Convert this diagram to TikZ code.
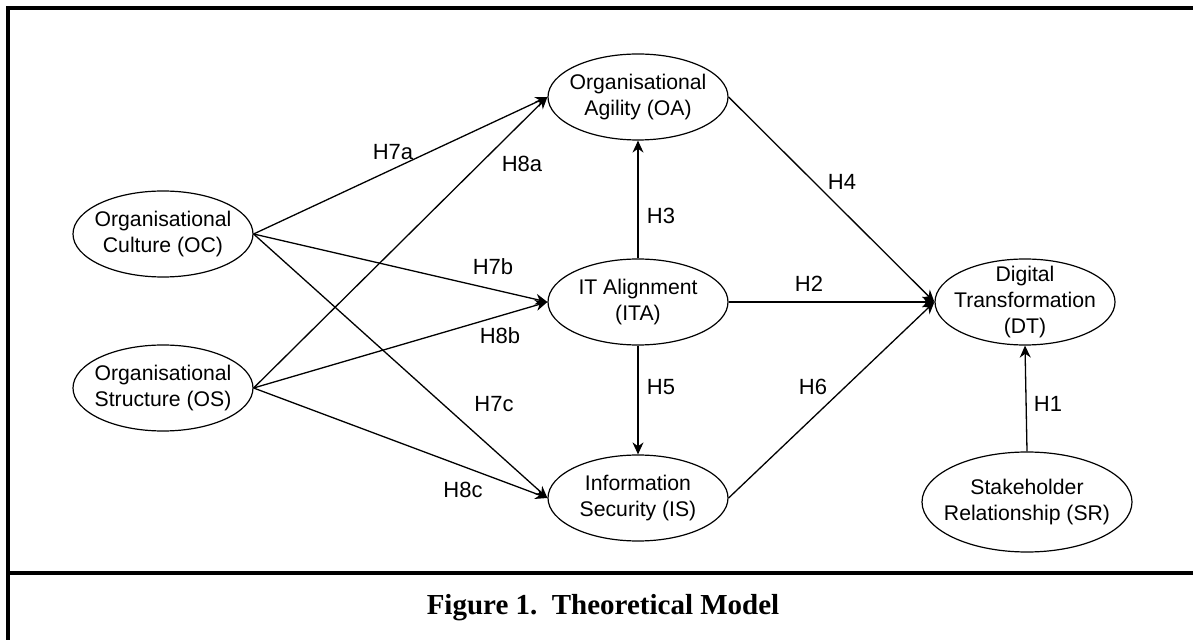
\documentclass[tikz,border=0pt]{standalone}
\usepackage{fontspec}
\setmainfont{Liberation Sans}
\newfontfamily\capfont{Liberation Serif}
\usetikzlibrary{shapes.geometric,arrows.meta}
\begin{document}
\begin{tikzpicture}[x=0.5pt,y=-0.5pt,
	construct/.style={draw,ellipse,line width=0.6pt,align=center,inner xsep=-12pt,inner ysep=-4pt,minimum width=90pt,minimum height=43pt,font=\fontsize{10.6}{12.8}\selectfont},
	hyp/.style={inner sep=1pt,font=\fontsize{11}{13}\selectfont},
	link/.style={->,>={Stealth[length=6pt,width=5.5pt]},line width=0.65pt}]
	\useasboundingbox (0,0) rectangle (1193,640);
	\draw[line width=1.6pt](8,640)--(8,8)--(1193,8);
	\draw[line width=1.6pt](8,573)--(1193,573);
	% constructs
	\node[construct] (oc) at (163,234) {Organisational\\Culture (OC)};
	\node[construct] (os) at (163,388) {Organisational\\Structure (OS)};
	\node[construct] (oa) at (638,97) {Organisational\\Agility (OA)};
	\node[construct] (ita) at (638,302) {IT Alignment\\(ITA)};
	\node[construct] (is) at (638,498) {Information\\Security (IS)};
	\node[construct] (dt) at (1025,302) {Digital\\Transformation\\(DT)};
	\node[construct,minimum width=105pt,minimum height=50pt] (sr) at (1027,502) {Stakeholder\\Relationship (SR)};
	% paths
	\draw[link](oc.east)--(oa.west);
	\draw[link](os.east)--(oa.west);
	\draw[link](oc.east)--(ita.west);
	\draw[link](os.east)--(ita.west);
	\draw[link](oc.east)--(is.west);
	\draw[link](os.east)--(is.west);
	\draw[link](ita.north)--(oa.south);
	\draw[link](ita.south)--(is.north);
	\draw[link](oa.east)--(dt.west);
	\draw[link](ita.east)--(dt.west);
	\draw[link](is.east)--(dt.west);
	\draw[link](sr.north)--(dt.south);
	% hypotheses
	\node[hyp] (h7a) at (393,152) {H7a};
	\node[hyp] (h8a) at (522,164) {H8a};
	\node[hyp] (h7b) at (493,267) {H7b};
	\node[hyp] (h8b) at (500,336) {H8b};
	\node[hyp] (h7c) at (494,404) {H7c};
	\node[hyp] (h8c) at (463,490) {H8c};
	\node[hyp] (h3) at (661,216) {H3};
	\node[hyp] (h4) at (842,182) {H4};
	\node[hyp] (h2) at (809,284) {H2};
	\node[hyp] (h5) at (661,387) {H5};
	\node[hyp] (h6) at (813,387) {H6};
	\node[hyp] (h1) at (1048,404) {H1};
	\node[font=\capfont\bfseries\fontsize{14.5}{16}\selectfont] (cap) at (603,608) {Figure 1.\ \ Theoretical Model};
\end{tikzpicture}
\end{document}
